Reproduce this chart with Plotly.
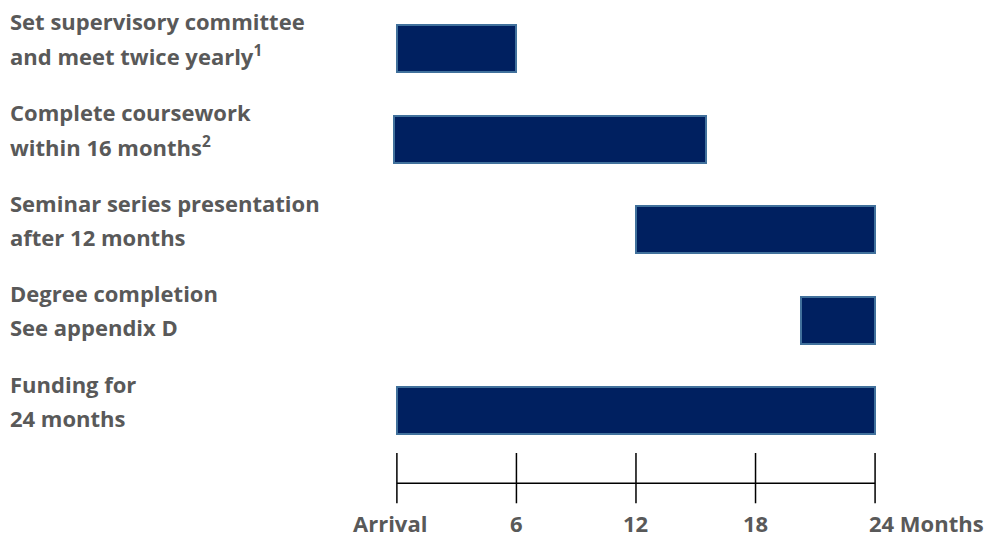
import plotly.graph_objects as go

# ---- data ----
label_line1 = ["Set supervisory committee", "Complete coursework", "Seminar series presentation",
               "Degree completion", "Funding for"]
label_line2 = ["and meet twice yearly<sup>1</sup>", "within 16 months<sup>2</sup>", "after 12 months",
               "See appendix D", "24 months"]
start_month = [0, -0.15, 12, 20.3, 0]
end_month = [6, 15.5, 24, 24, 24]
tick_values = [0, 6, 12, 18, 24]
tick_labels = ["Arrival", "6", "12", "18", "24 Months"]

# ---- style / layout constants ----
W, H = 988, 537
TEXT = "#595959"
FONT = "Open Sans"
FS = 22
X_RANGE = [-1.5, 25]
M_L = 367
M_R = W - 895
plot_w = W - M_L - M_R
px_per_row = 90.6

rows = list(range(len(label_line1)))
durations = [e - s for s, e in zip(start_month, end_month)]

fig = go.Figure()
fig.add_trace(go.Bar(
    y=rows, x=durations, base=start_month, orientation="h", width=0.52,
    marker=dict(color="#002060", line=dict(color="#41719C", width=2)),
    hoverinfo="skip", showlegend=False,
))

# timeline axis: main line plus crossing ticks
axis_y = 4.8
tick_top, tick_bot = 4.465, 5.02
lx, ly = [tick_values[0], tick_values[-1]], [axis_y, axis_y]
for t in tick_values:
    lx += [None, t, t]
    ly += [None, tick_top, tick_bot]
fig.add_trace(go.Scatter(x=lx, y=ly, mode="lines", line=dict(color="black", width=1.5),
                         hoverinfo="skip", showlegend=False))

font = dict(family=FONT, size=FS, color=TEXT, weight="bold")
annotations = []
for t, lab in zip(tick_values, tick_labels):
    if lab.startswith("24"):
        annotations.append(dict(x=t, y=5.24, xref="x", yref="y", text=lab, showarrow=False,
                                xanchor="left", xshift=-8, font=font))
    else:
        annotations.append(dict(x=t, y=5.24, xref="x", yref="y", text=lab, showarrow=False,
                                xanchor="center", xshift=-7 if t == 0 else 0, font=font))
lab_x = (8 - M_L) / plot_w
for r, l1, l2 in zip(rows, label_line1, label_line2):
    annotations.append(dict(x=lab_x, y=r, xref="paper", yref="y", text=l1, showarrow=False,
                            xanchor="left", yshift=27, font=font))
    annotations.append(dict(x=lab_x, y=r, xref="paper", yref="y", text=l2, showarrow=False,
                            xanchor="left", yshift=-7, font=font))

row_top = -0.535
fig.update_layout(
    width=W, height=H,
    margin=dict(l=M_L, r=M_R, t=0, b=0, pad=0),
    paper_bgcolor="white", plot_bgcolor="white",
    xaxis=dict(range=X_RANGE, visible=False),
    yaxis=dict(range=[row_top + H / px_per_row, row_top], visible=False),
    annotations=annotations,
    bargap=0,
)
fig.write_html("out.html", config={"displayModeBar": False},
               post_script="document.body.style.margin='0';document.body.style.overflow='hidden';")
